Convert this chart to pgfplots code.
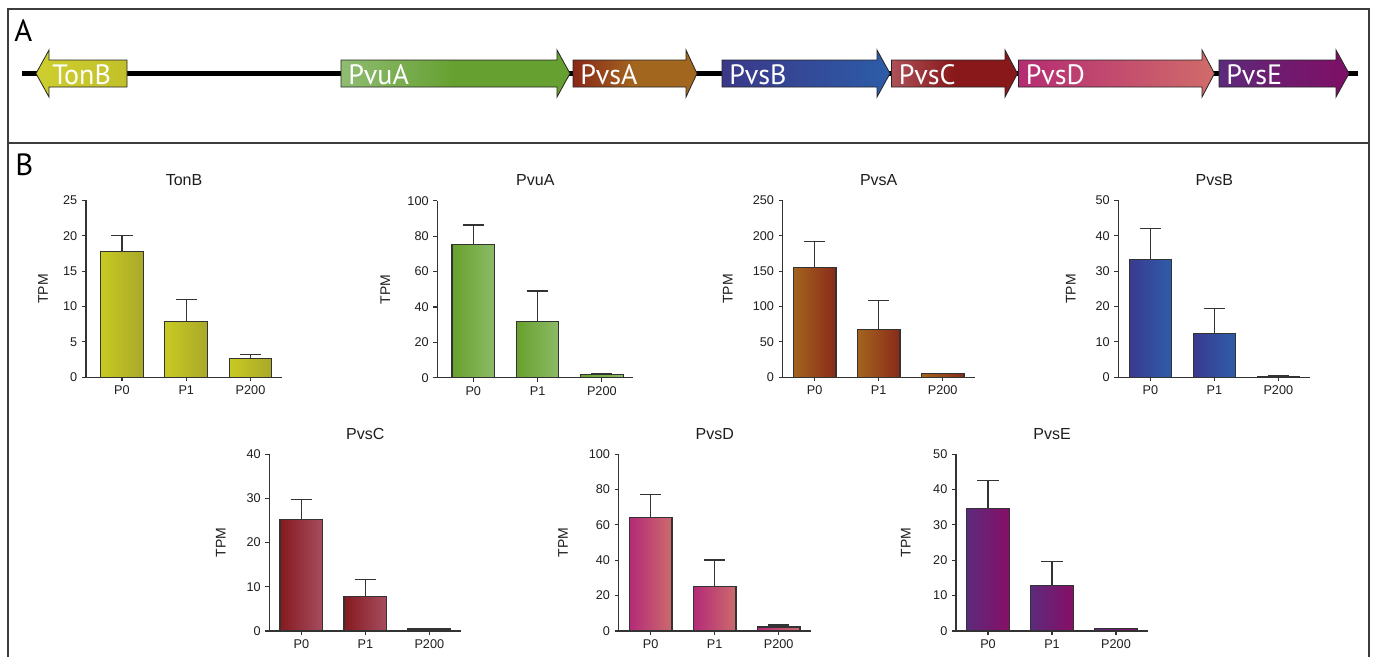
\documentclass[border=0pt]{standalone}
\usepackage{fontspec}
\setmainfont{Liberation Sans}
\newfontfamily\genefont{PT Sans}
\usepackage{pgfplots}
\pgfplotsset{compat=1.18}
\definecolor{framec}{HTML}{3C3C3C}
\definecolor{axc}{HTML}{333333}
\definecolor{txt}{HTML}{1E1E1E}
% gene arrow colours
\definecolor{TonBA}{HTML}{CDCE2E}
\definecolor{TonBB}{HTML}{C2C02A}
\definecolor{PvuAgA}{HTML}{8FBC72}
\definecolor{PvuAgB}{HTML}{66A030}
\definecolor{PvsAgA}{HTML}{8A2818}
\definecolor{PvsAgB}{HTML}{A3661E}
\definecolor{PvsBgA}{HTML}{3A3888}
\definecolor{PvsBgB}{HTML}{2C5CA8}
\definecolor{PvsCgA}{HTML}{AC5058}
\definecolor{PvsCgB}{HTML}{88181A}
\definecolor{PvsDgA}{HTML}{B52C72}
\definecolor{PvsDgB}{HTML}{D06C6A}
\definecolor{PvsEgA}{HTML}{5C2A7C}
\definecolor{PvsEgB}{HTML}{7E1066}
% bar colours
\definecolor{TonBbA}{HTML}{C8CA22}
\definecolor{TonBbB}{HTML}{A9A82A}
\definecolor{PvuAbA}{HTML}{68A02C}
\definecolor{PvuAbB}{HTML}{8CBB68}
\definecolor{PvsAbA}{HTML}{A3641E}
\definecolor{PvsAbB}{HTML}{8A2A1A}
\definecolor{PvsBbA}{HTML}{3A3A8E}
\definecolor{PvsBbB}{HTML}{2E5CAA}
\definecolor{PvsCbA}{HTML}{851A1F}
\definecolor{PvsCbB}{HTML}{A64D5F}
\definecolor{PvsDbA}{HTML}{B42A78}
\definecolor{PvsDbB}{HTML}{CC6B6C}
\definecolor{PvsEbA}{HTML}{5C2A7C}
\definecolor{PvsEbB}{HTML}{860F66}

% #1 left, #2 head base, #3 tip, #4 left colour, #5 middle colour, #6 right colour, #7 label
\newcommand{\rgene}[7]{%
  \path[draw=black!85, line width=0.6pt, left color=#4, right color=#6, middle color=#5]
    (#1,60) -- (#2,60) -- (#2,50) -- (#3,73.5) -- (#2,97) -- (#2,87) -- (#1,87) -- cycle;
  \node[anchor=base west, inner sep=0, text=white, font=\genefont\fontsize{21}{21}\selectfont] at (#1+7,84.5) {#7};
}

\pgfplotsset{
  bchart/.style={
    scale only axis,
    width=144pt, height=132.7pt,
    xmin=-0.5, xmax=2.5, ymin=0,
    enlargelimits=false,
    axis x line*=bottom, axis y line*=left,
    axis line style={draw=axc, line width=0.85pt},
    every tick/.style={draw=axc, line width=0.85pt},
    tick align=outside,
    major tick length=3pt,
    xtick={0,1,2}, xticklabels={P0,P1,P200},
    tick label style={font=\fontsize{9.5}{10}\selectfont, text=txt},
    /pgf/number format/assume math mode=true,
    title style={font=\fontsize{12}{12}\selectfont, text=txt, at={(0.5,1)}, anchor=base, yshift=5.25pt},
    ylabel={TPM},
    ylabel style={font=\fontsize{10.5}{11}\selectfont, text=txt, anchor=center},
    clip=false,
    anchor=south west,
  },
  onebar/.style 2 args={ybar, bar shift=0pt, bar width=0.664, draw=axc, line width=0.85pt,
    left color=#1, right color=#2,
    error bars/.cd, y dir=plus, y explicit,
    error bar style={draw=axc, line width=0.85pt},
    error mark options={rotate=90, draw=axc, line width=0.85pt, mark size=8pt}},
}

\begin{document}
\begin{tikzpicture}
\begin{scope}[x=0.75pt,y=-0.75pt]
\path[use as bounding box] (0,0) rectangle (1375,657);
\fill[white] (0,0) rectangle (1375,657);
\draw[framec, line width=1.5pt] (8,680) -- (8,9) -- (1369,9) -- (1369,680);
\draw[framec, line width=1.5pt] (8,143) -- (1369,143);
\node[anchor=base west, inner sep=0, font=\genefont\fontsize{23}{23}\selectfont] at (14,41.5) {A};
\node[anchor=base west, inner sep=0, font=\genefont\fontsize{23}{23}\selectfont] at (15,175) {B};
\draw[black, line width=3.75pt] (22,73.5) -- (1358,73.5);
% TonB (leftward)
\path[draw=black!85, line width=0.6pt, left color=TonBA, right color=TonBB] (127,60) -- (49,60) -- (49,50) -- (36,73.5) -- (49,97) -- (49,87) -- (127,87) -- cycle;
\node[anchor=base west, inner sep=0, text=white, font=\genefont\fontsize{21}{21}\selectfont] at (52,84.5) {TonB};
\rgene{341}{557}{570}{PvuAgA}{PvuAgB}{PvuAgB}{PvuA}
\rgene{573}{686}{697}{PvsAgA}{PvsAgB}{PvsAgB}{PvsA}
\rgene{722}{877}{890}{PvsBgA}{PvsBgA!50!PvsBgB}{PvsBgB}{PvsB}
\rgene{891.5}{1005}{1017.5}{PvsCgA}{PvsCgB}{PvsCgB}{PvsC}
\rgene{1018.5}{1202}{1214.5}{PvsDgA}{PvsDgA!50!PvsDgB}{PvsDgB}{PvsD}
\rgene{1219}{1336}{1349}{PvsEgA}{PvsEgA!40!PvsEgB}{PvsEgB}{PvsE}
\end{scope}

% Row 1
\begin{axis}[bchart, at={(64.5pt,-282.98pt)}, width=147pt, xmin=-0.56, xmax=2.49,
  ymax=25, ytick={0,5,...,25}, title={TonB},
  ylabel style={at={(axis description cs:-0.219,0.5)}}]
\addplot[onebar={TonBbA}{TonBbB}] coordinates {(0,17.8) +- (0,2.2)};
\addplot[onebar={TonBbA}{TonBbB}] coordinates {(1,7.85) +- (0,3.1)};
\addplot[onebar={TonBbA}{TonBbB}] coordinates {(2,2.6) +- (0,0.65)};
\end{axis}

\begin{axis}[bchart, at={(327.98pt,-283.28pt)}, width=147pt, xmin=-0.56, xmax=2.49,
  ymax=100, ytick={0,20,...,100}, title={PvuA},
  ylabel style={at={(axis description cs:-0.265,0.5)}}]
\addplot[onebar={PvuAbA}{PvuAbB}] coordinates {(0,75.2) +- (0,11.1)};
\addplot[onebar={PvuAbA}{PvuAbB}] coordinates {(1,31.7) +- (0,17.3)};
\addplot[onebar={PvuAbA}{PvuAbB}] coordinates {(2,2.0) +- (0,0.4)};
\end{axis}

\begin{axis}[bchart, at={(587.03pt,-282.98pt)},
  ymax=250, ytick={0,50,...,250}, title={PvsA},
  ylabel style={at={(axis description cs:-0.286,0.5)}}]
\addplot[onebar={PvsAbA}{PvsAbB}] coordinates {(0,155) +- (0,36.5)};
\addplot[onebar={PvsAbA}{PvsAbB}] coordinates {(1,68) +- (0,40)};
\addplot[onebar={PvsAbA}{PvsAbB}] coordinates {(2,5) +- (0,0.6)};
\end{axis}

\begin{axis}[bchart, at={(838.73pt,-282.98pt)},
  ymax=50, ytick={0,10,...,50}, title={PvsB},
  ylabel style={at={(axis description cs:-0.247,0.5)}}]
\addplot[onebar={PvsBbA}{PvsBbB}] coordinates {(0,33.4) +- (0,8.6)};
\addplot[onebar={PvsBbA}{PvsBbB}] coordinates {(1,12.3) +- (0,7.1)};
\addplot[onebar={PvsBbA}{PvsBbB}] coordinates {(2,0.35) +- (0,0.1)};
\end{axis}

% Row 2
\begin{axis}[bchart, at={(201.98pt,-473.25pt)},
  ymax=40, ytick={0,10,...,40}, title={PvsC},
  ylabel style={at={(axis description cs:-0.253,0.5)}}]
\addplot[onebar={PvsCbA}{PvsCbB}] coordinates {(0,25.2) +- (0,4.6)};
\addplot[onebar={PvsCbA}{PvsCbB}] coordinates {(1,7.8) +- (0,3.8)};
\addplot[onebar={PvsCbA}{PvsCbB}] coordinates {(2,0.45) +- (0,0.1)};
\end{axis}

\begin{axis}[bchart, at={(464.03pt,-473.25pt)},
  ymax=100, ytick={0,20,...,100}, title={PvsD},
  ylabel style={at={(axis description cs:-0.29,0.5)}}]
\addplot[onebar={PvsDbA}{PvsDbB}] coordinates {(0,64.3) +- (0,12.7)};
\addplot[onebar={PvsDbA}{PvsDbB}] coordinates {(1,25.4) +- (0,14.7)};
\addplot[onebar={PvsDbA}{PvsDbB}] coordinates {(2,2.3) +- (0,1.1)};
\end{axis}

\begin{axis}[bchart, at={(717pt,-473.25pt)},
  ymax=50, ytick={0,10,...,50}, title={PvsE},
  ylabel style={at={(axis description cs:-0.262,0.5)}}]
\addplot[onebar={PvsEbA}{PvsEbB}] coordinates {(0,34.6) +- (0,7.9)};
\addplot[onebar={PvsEbA}{PvsEbB}] coordinates {(1,12.8) +- (0,6.9)};
\addplot[onebar={PvsEbA}{PvsEbB}] coordinates {(2,0.6) +- (0,0.15)};
\end{axis}
\end{tikzpicture}
\end{document}
